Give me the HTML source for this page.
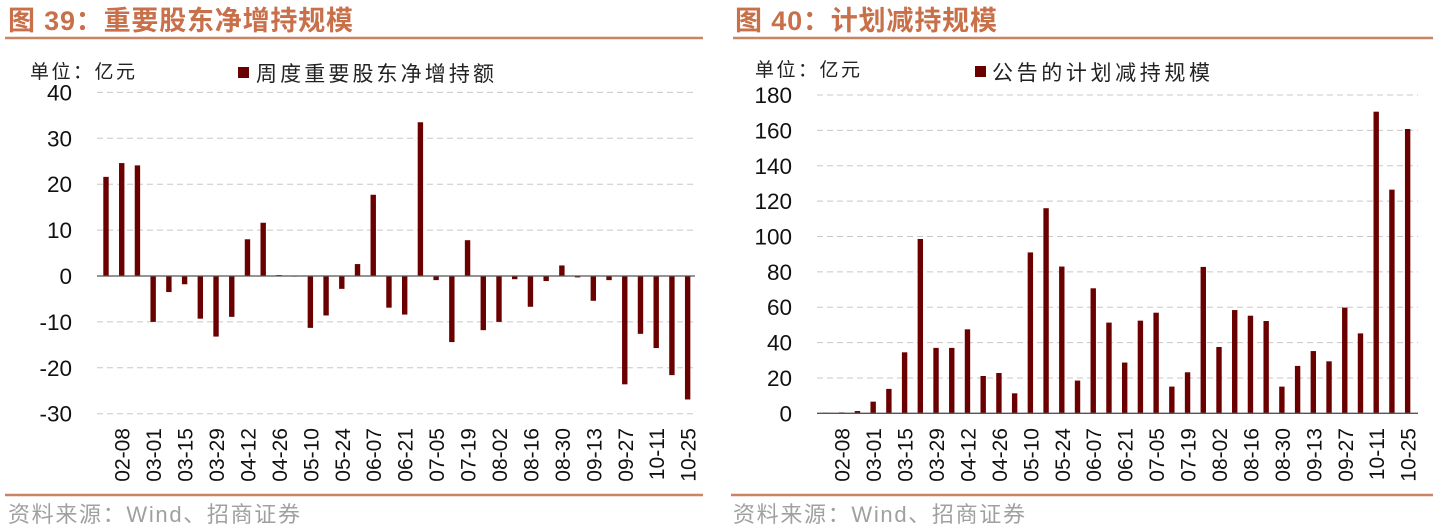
<!DOCTYPE html>
<html><head><meta charset="utf-8"><style>
body{margin:0;background:#fff;width:1438px;height:528px;overflow:hidden;font-family:"Liberation Sans","Noto Sans CJK SC",sans-serif}
svg{position:absolute;left:0;top:0}
</style></head><body>
<svg id="s" width="1438" height="528" xmlns="http://www.w3.org/2000/svg">
<text x="8" y="30" font-size="27" font-weight="bold" fill="#c8704a" font-family="Liberation Sans,Noto Sans CJK SC,sans-serif" textLength="345">图 39：重要股东净增持规模</text>
<line x1="5" y1="38" x2="703" y2="38" stroke="#c98466" stroke-width="2.5"/>
<text x="735" y="30" font-size="27" font-weight="bold" fill="#c8704a" font-family="Liberation Sans,Noto Sans CJK SC,sans-serif" textLength="262">图 40：计划减持规模</text>
<line x1="733" y1="38" x2="1433" y2="38" stroke="#c98466" stroke-width="2.5"/>
<text x="30" y="78" font-size="19" fill="#222" font-family="Liberation Sans,Noto Sans CJK SC,sans-serif" textLength="105">单位：亿元</text>
<rect x="238" y="67" width="11" height="11" fill="#6b0000"/>
<text x="256" y="81" font-size="21" fill="#222" font-family="Liberation Sans,Noto Sans CJK SC,sans-serif" textLength="238">周度重要股东净增持额</text>
<text x="755" y="76" font-size="19" fill="#222" font-family="Liberation Sans,Noto Sans CJK SC,sans-serif" textLength="105">单位：亿元</text>
<rect x="975" y="66" width="11" height="11" fill="#6b0000"/>
<text x="992" y="80" font-size="21" fill="#222" font-family="Liberation Sans,Noto Sans CJK SC,sans-serif" textLength="218">公告的计划减持规模</text>
<line x1="5" y1="495" x2="703" y2="495" stroke="#c98466" stroke-width="2.5"/>
<line x1="731" y1="495" x2="1433" y2="495" stroke="#c98466" stroke-width="2.5"/>
<text x="8" y="522" font-size="22" fill="#a0a0a0" font-family="Liberation Sans,Noto Sans CJK SC,sans-serif" textLength="292">资料来源：Wind、招商证券</text>
<text x="733" y="522" font-size="22" fill="#a0a0a0" font-family="Liberation Sans,Noto Sans CJK SC,sans-serif" textLength="292">资料来源：Wind、招商证券</text>
<g id="g"></g>
</svg>
<script>
const categories=["02-01","02-08","02-22","03-01","03-08","03-15","03-22","03-29","04-05","04-12","04-19","04-26","05-03","05-10","05-17","05-24","05-31","06-07","06-14","06-21","06-28","07-05","07-12","07-19","07-26","08-02","08-09","08-16","08-23","08-30","09-06","09-13","09-20","09-27","10-04","10-11","10-18","10-25"];
const netIncrease=[21.6,24.6,24.1,-10,-3.5,-1.8,-9.3,-13.2,-8.9,8.0,11.6,0.2,0,-11.3,-8.6,-2.8,2.6,17.7,-6.9,-8.4,33.5,-0.9,-14.4,7.8,-11.8,-10,-0.7,-6.7,-1.1,2.3,-0.3,-5.4,-0.9,-23.6,-12.6,-15.7,-21.6,-26.9];
const plannedReduction=[0.3,0.5,1.3,6.6,13.8,34.5,98.6,37,37,47.5,21.1,22.8,11.3,91,116,83,18.5,70.7,51.3,28.7,52.4,56.9,15.1,23.2,82.8,37.5,58.4,55.2,52.2,15.1,26.8,35.2,29.4,59.8,45.2,170.6,126.5,160.8];
const leftTicks=[40,30,20,10,0,-10,-20,-30];
const rightTicks=[180,160,140,120,100,80,60,40,20,0];
const NS="http://www.w3.org/2000/svg",g=document.getElementById('g');
function mk(t,a){const e=document.createElementNS(NS,t);for(const k in a)e.setAttribute(k,a[k]);g.appendChild(e);return e;}
function chart(cfg){
  const {vals,ticks,y,x,gx1,gx2,lx,side}=cfg;
  ticks.forEach(t=>{
    if(t!==0){const l=mk('line',{x1:gx1,x2:gx2,y1:y(t),y2:y(t),stroke:'#c8c8c8','stroke-dasharray':'6,4','stroke-width':1});
    
    }
    const tx=mk('text',{x:lx,y:y(t)+8,'text-anchor':'end','font-size':22.5,fill:'#111'});tx.textContent=t;
    
    
  });
  vals.forEach((v,i)=>{
    const y0=y(0),y1=y(v);
    const r=mk('rect',{x:x(i)-2.7,y:Math.min(y0,y1),width:5.4,height:Math.max(0.6,Math.abs(y1-y0)),fill:'#6b0000'});
    
    
    if(i%2===1){
      const t=mk('text',{x:0,y:0,'text-anchor':'end','font-size':21,fill:'#111',transform:`translate(${x(i)+8},428) rotate(-90)`});
      t.textContent=categories[i];
      
      
    }
  });
  const a=mk('line',{x1:gx1,x2:gx2,y1:y(0),y2:y(0),stroke:'#555','stroke-width':1.3});
  
  
}
chart({vals:netIncrease,ticks:leftTicks,y:v=>276-v*4.59,x:i=>106+i*15.72,gx1:97,gx2:695,lx:72,side:'left'});
chart({vals:plannedReduction,ticks:rightTicks,y:v=>413.3-v*1.768,x:i=>826+i*15.72,gx1:817,gx2:1418,lx:792,side:'right'});
</script>
</body></html>
